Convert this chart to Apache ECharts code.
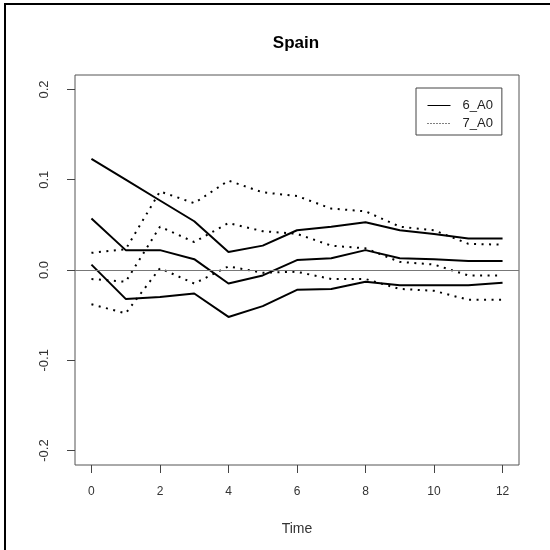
<!DOCTYPE html>
<html>
<head>
<meta charset="utf-8">
<script src="https://cdn.jsdelivr.net/npm/echarts@6/dist/echarts.min.js"></script>
<style>
  html, body { margin: 0; padding: 0; background: #fff; }
  #chart { width: 550px; height: 550px; }
</style>
</head>
<body>
<div id="chart"></div>
<script>
// Impulse responses for Spain: estimate with lower/upper bands
const timeSteps = [0, 1, 2, 3, 4, 5, 6, 7, 8, 9, 10, 11, 12];
const xTicks = [0, 2, 4, 6, 8, 10, 12];
const yTicks = [-0.2, -0.1, 0.0, 0.1, 0.2];

// 6_A0 (solid)
const a6Upper = [0.123, 0.100, 0.077, 0.054, 0.020, 0.027, 0.044, 0.048, 0.053, 0.044, 0.040, 0.035, 0.035];
const a6Mid   = [0.057, 0.022, 0.022, 0.012, -0.015, -0.006, 0.011, 0.013, 0.022, 0.013, 0.012, 0.010, 0.010];
const a6Lower = [0.006, -0.032, -0.030, -0.026, -0.052, -0.040, -0.022, -0.021, -0.013, -0.017, -0.017, -0.017, -0.014];

// 7_A0 (dotted)
const a7Upper = [0.019, 0.023, 0.087, 0.074, 0.099, 0.086, 0.082, 0.068, 0.065, 0.048, 0.044, 0.029, 0.028];
const a7Mid   = [-0.010, -0.013, 0.048, 0.031, 0.052, 0.043, 0.040, 0.027, 0.024, 0.009, 0.006, -0.006, -0.006];
const a7Lower = [-0.038, -0.048, 0.002, -0.015, 0.004, -0.003, -0.002, -0.010, -0.010, -0.021, -0.023, -0.033, -0.033];

const FONT = '"Liberation Sans", Arial, sans-serif';

function pairs(values) {
  return timeSteps.map((t, i) => [t, values[i]]);
}

function lineSeries(name, values, dotted) {
  return {
    type: 'line',
    name: name,
    data: pairs(values),
    showSymbol: false,
    symbol: 'none',
    silent: true,
    animation: false,
    itemStyle: { color: '#000' },
    lineStyle: dotted
      ? { color: '#000', width: 2, type: [2, 5.5], cap: 'butt' }
      : { color: '#000', width: 2 }
  };
}

const series = [
  lineSeries('6_A0', a6Upper, false),
  lineSeries('6_A0', a6Mid, false),
  lineSeries('6_A0', a6Lower, false),
  lineSeries('7_A0', a7Upper, true),
  lineSeries('7_A0', a7Mid, true),
  lineSeries('7_A0', a7Lower, true)
];

// horizontal reference line at zero
series[0].markLine = {
  silent: true,
  symbol: 'none',
  label: { show: false },
  lineStyle: { color: '#777', width: 1, type: 'solid' },
  data: [{ yAxis: 0 }],
  animation: false
};

const hiddenSymbol = { color: 'rgba(0,0,0,0)', borderWidth: 0, opacity: 0 };

const chart = echarts.init(document.getElementById('chart'), null, { renderer: 'canvas' });

chart.setOption({
  backgroundColor: '#fff',
  animation: false,
  title: {
    text: 'Spain',
    left: 291,
    top: 30,
    textAlign: 'center',
    textStyle: { fontFamily: FONT, fontSize: 17, fontWeight: 'bold', color: '#000' }
  },
  grid: {
    left: 75, top: 75, width: 444, height: 390,
    show: true,
    borderColor: '#555',
    borderWidth: 1,
    backgroundColor: 'transparent'
  },
  legend: {
    left: 416,
    top: 88,
    orient: 'vertical',
    itemWidth: 23,
    itemHeight: 14,
    itemGap: 5,
    padding: [11, 9, 5, 11],
    borderColor: '#444',
    borderWidth: 1,
    selectedMode: false,
    textStyle: { fontFamily: FONT, fontSize: 13, color: '#222', padding: [0, 0, 0, 7] },
    data: [
      { name: '6_A0', itemStyle: hiddenSymbol, lineStyle: { color: '#000', width: 1, type: 'solid' } },
      { name: '7_A0', itemStyle: hiddenSymbol, lineStyle: { color: '#000', width: 1, type: [1, 2] } }
    ]
  },
  xAxis: {
    type: 'value',
    min: -0.48,
    max: 12.48,
    name: 'Time',
    nameLocation: 'middle',
    nameGap: 57,
    nameTextStyle: { fontFamily: FONT, fontSize: 14, color: '#333' },
    splitLine: { show: false },
    axisLine: { show: false, onZero: false },
    axisTick: { show: true, inside: false, length: 8, lineStyle: { color: '#444' }, customValues: xTicks },
    axisLabel: {
      show: true, margin: 21,
      fontFamily: FONT, fontSize: 12, color: '#333',
      customValues: xTicks,
      formatter: v => String(v)
    }
  },
  yAxis: {
    type: 'value',
    min: -0.216,
    max: 0.216,
    splitLine: { show: false },
    axisLine: { show: false, onZero: false },
    axisTick: { show: true, inside: false, length: 8, lineStyle: { color: '#444' }, customValues: yTicks },
    axisLabel: {
      show: true, margin: 24, rotate: 90,
      fontFamily: FONT, fontSize: 13, color: '#333',
      customValues: yTicks,
      formatter: v => v.toFixed(1)
    }
  },
  graphic: [
    {
      type: 'rect',
      silent: true,
      shape: { x: 5, y: 4, width: 700, height: 700 },
      style: { fill: 'none', stroke: '#000', lineWidth: 2 }
    }
  ],
  series: series
});
</script>
</body>
</html>
